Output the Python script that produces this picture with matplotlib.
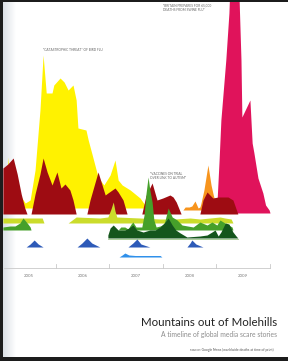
import numpy as np
import matplotlib
matplotlib.use('Agg')
import matplotlib.pyplot as plt
from matplotlib.patches import Rectangle

# months since Jan 2005, heights in story units
years = ['2005', '2006', '2007', '2008', '2009']

bird_m = [0.4, 0.9, 1.3, 1.8, 4.0, 5.2, 6.3, 7.4, 8.5, 9.2, 9.9, 11.2, 11.6, 13.0, 13.9, 14.8, 15.9,
          16.6, 17.0, 18.8, 19.3, 20.2, 21.5, 22.8, 24.2, 25.3, 26.0, 26.9, 28.7, 30.9, 32.0, 32.7]
bird_v = [0, 0, 51, 23, 13, 5, 8, 38, 98, 153, 115, 115, 123, 130, 126, 118, 123,
          108, 80, 78, 68, 53, 31, 23, 33, 48, 28, 23, 18, 10, 3, 0]

games_m = [0.2, 1.3, 2.5, 3.4, 4.3, 5.1, 5.6,
           6.5, 7.4, 8.5, 9.2, 10.1, 11.2, 12.3, 13.2, 14.1, 15.2, 15.9, 16.6,
           19.0, 19.7, 21.5, 23.1, 23.7, 25.3, 26.0, 27.1, 28.0,
           31.3, 32.2, 33.6, 34.7, 36.0, 37.6, 38.3, 39.0, 40.1,
           44.3, 45.0, 45.9, 47.2, 48.4, 50.6, 51.7, 52.8]
games_v = [46, 50, 56, 40, 20, 6, 0,
           0, 20, 40, 56, 42, 29, 42, 26, 30, 24, 14, 0,
           0, 14, 42, 19, 21, 26, 22, 14, 0,
           0, 18, 31, 14, 16, 19, 17, 12, 0,
           0, 14, 22, 16, 17, 17, 14, 0]

swine_m = [47.9, 48.1, 48.6, 49.0, 50.1, 50.8, 51.0, 53.0, 53.5, 53.7, 55.5, 56.0, 56.4, 57.3,
           58.4, 59.0, 59.8, 60.0]
swine_v = [0, 8, 53, 93, 153, 200, 225, 225, 153, 96, 113, 70, 60, 35, 20, 8, 3, 0]

orange_m = [40.5, 41.0, 41.9, 42.5, 43.2, 43.9, 44.3, 44.5, 45.2, 46.1, 46.8, 47.3, 47.9, 48.4]
orange_v = [0, 3, 3, 4, 9, 2, 3, 6, 20, 45, 25, 15, 5, 0]

lime_m = [0.2, 9.0, 9.4,
          14.8, 15.7, 16.6, 21.9, 23.7, 24.4, 24.9, 25.3, 25.7, 30.9, 35.4, 38.7, 42.1, 44.3,
          46.6, 48.8, 49.9, 51.3, 51.7]
lime_v = [5, 5, 0,
          0, 3, 6, 5, 6, 14, 21, 12, 6, 5, 4, 4, 5, 4,
          5, 6, 5, 4, 0]

mmr_m = [0.2, 1.8, 2.9, 4.0, 4.7, 5.1, 5.8, 6.3, 6.5,
         26.0, 26.6, 27.5, 28.2, 28.9, 29.3, 30.0, 31.3, 31.8, 32.2, 32.7, 33.1, 33.6, 34.0,
         34.5, 35.4, 36.3, 37.2, 38.1, 39.2, 40.3, 42.8, 44.3, 45.9, 47.0, 48.1, 48.8, 49.9,
         51.5, 51.7]
mmr_v = [3, 4, 4, 7, 12, 10, 6, 3, 0,
         0, 3, 3, 1, 6, 8, 3, 3, 15, 35, 53, 40, 28, 10,
         3, 4, 6, 22, 13, 10, 5, 3, 8, 5, 8, 5, 10, 7,
         3, 0]

phones_m = [23.7, 24.2, 24.9, 26.0, 27.5, 28.4, 29.3, 30.2, 31.6, 33.1, 34.3, 35.4, 36.5, 37.2,
            38.1, 38.9, 39.9, 41.4, 44.3, 45.9, 47.0, 47.7, 48.4, 49.0, 50.0, 50.8, 51.7, 52.4,
            52.8]
phones_v = [3, 10, 13, 8, 8, 10, 13, 8, 6, 8, 8, 11, 16, 20,
            13, 8, 5, 1, 2, 3, 6, 8, 2, 6, 15, 14, 6, 2,
            0]

wasps_m = [5.4, 6.3, 7.2, 8.1, 9.2,
           16.8, 17.9, 19.0, 20.1, 21.9,
           28.2, 29.3, 30.2, 31.1, 33.1,
           41.4, 42.1, 42.5, 43.4, 45.0]
wasps_v = [0, 3, 7, 3, 0,
           0, 4, 9, 4, 0,
           0, 4, 8, 3, 0,
           0, 4, 7, 3, 0]

y2k_m = [26.2, 26.9, 27.5, 28.4, 29.8, 35.4, 35.8]
y2k_v = [0, 2, 4, 2, 1.5, 1.5, 0]

H = 361

fig = plt.figure(figsize=(2.88, 3.61), dpi=100)
fig.patch.set_facecolor('white')
ax = fig.add_axes([0, 0, 1, 1])
ax.set_xlim(-2 / 4.467, 286 / 4.467)
ax.set_ylim(0, H)
ax.axis('off')

# left shading of the photographed page
grad = np.linspace(0, 1, 60).reshape(1, -1)
ax.imshow(grad, cmap=matplotlib.colors.LinearSegmentedColormap.from_list('g', ['#d3d9e0', '#ffffff']),
          extent=(-0.45, 3.0, 0, H), aspect='auto', zorder=0)


def hill(months, vals, base_px, color, z):
    b = H - base_px
    ax.fill_between(months, b, b + np.array(vals), color=color, lw=0, zorder=z)


hill(bird_m, bird_v, 208, '#fff200', 1)
hill(orange_m, orange_v, 210, '#f7941d', 2)
hill(swine_m, swine_v, 213, '#e0135b', 3)
hill(games_m, games_v, 214, '#9e0c12', 4)
hill(lime_m, lime_v, 223, '#cbdc2b', 5)
hill(mmr_m, mmr_v, 230, '#46a02a', 6)
hill(phones_m, phones_v, 238, '#14561c', 7)
ax.plot([phones_m[0], phones_m[-1]], [H - 238.5] * 2, color='#9fc88a', lw=0.6, zorder=7)
hill(wasps_m, wasps_v, 247, '#2d5ab8', 8)
hill(y2k_m, y2k_v, 257, '#2f90ea', 9)

# time axis
ax.plot([0.4, 60], [H - 268] * 2, color='#c9c9c9', lw=0.6, zorder=5)
for i in range(1, 6):
    ax.plot([12 * i] * 2, [H - 268, H - 264], color='#c9c9c9', lw=0.6, zorder=5)
for i, yr in enumerate(years):
    ax.text(6 + 12 * i, H - 276, yr, ha='center', va='center', fontsize=3.2,
            color='#7a7a7a', family='Lato')

# headlines
qkw = dict(fontsize=2.3, color='#666666', family='Lato', va='center', ha='left',
           linespacing=1.2, zorder=10)
ax.text(9.2, H - 50, '\u201cCATASTROPHIC THREAT\u201d OF BIRD FLU', **qkw)
ax.text(36.0, H - 8, '\u201cBRITAIN PREPARES FOR 65,000\nDEATHS FROM SWINE FLU\u201d', **qkw)
ax.text(33.1, H - 176, '\u201cVACCINES ON TRIAL\nOVER LINK TO AUTISM\u201d', **qkw)

# titles
fig.text(277 / 288, 1 - 323 / H, 'Mountains out of Molehills', ha='right', va='center',
         fontsize=8.3, color='#222222', family='Lato')
fig.text(277 / 288, 1 - 334 / H, 'A timeline of global media scare stories', ha='right',
         va='center', fontsize=4.9, color='#8c8c8c', family='Lato')
fig.text(274 / 288, 1 - 350 / H, 'source: Google News (worldwide deaths at time of print)',
         ha='right', va='center', fontsize=2.4, color='#555555', family='Lato')

# page borders of the photo
for r in [(0, 0, 3 / 288, 1), (0, 1 - 2 / H, 1, 2 / H), (0, 0, 1, 4 / H)]:
    fig.add_artist(Rectangle(r[:2], r[2], r[3], transform=fig.transFigure,
                             color='#1c1c1c', lw=0, zorder=20))

fig.savefig('out.png', dpi=100)
